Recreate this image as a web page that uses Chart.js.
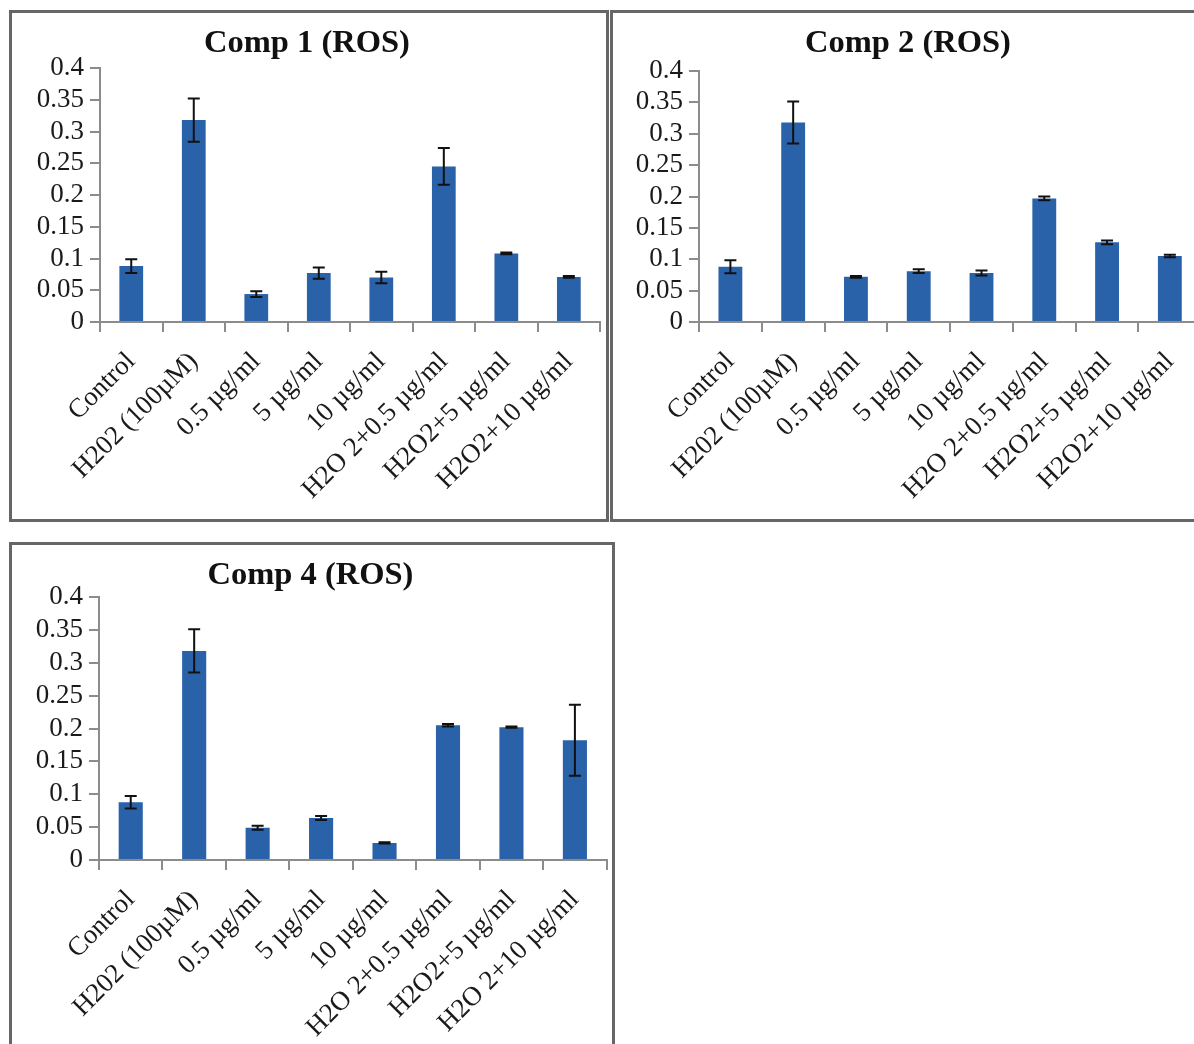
<!DOCTYPE html>
<html>
<head>
<meta charset="utf-8">
<title>ROS levels</title>
<script src="https://cdn.jsdelivr.net/npm/chart.js@4.4.1/dist/chart.umd.min.js"></script>
<style>
  html, body { margin: 0; padding: 0; background: #fff; }
  body { position: relative; width: 1194px; height: 1044px; overflow: hidden; }
  .panel { position: absolute; border: 3px solid #666; box-sizing: border-box; background: #fff; }
  .panel canvas { display: block; }
</style>
</head>
<body>
<div class="panel" style="left:9px; top:10px; width:600px; height:512px;">
  <canvas id="comp1" width="594" height="506"></canvas>
</div>
<div class="panel" style="left:610px; top:10px; width:600px; height:512px;">
  <canvas id="comp2" width="594" height="506"></canvas>
</div>
<div class="panel" style="left:9px; top:542px; width:606px; height:512px;">
  <canvas id="comp4" width="600" height="506"></canvas>
</div>
<script>
// Treatment groups (x axis)
const categories = ["Control", "H202 (100µM)", "0.5 µg/ml", "5 µg/ml", "10 µg/ml",
  "H2O 2+0.5 µg/ml", "H2O2+5 µg/ml", "H2O2+10 µg/ml"];
const categoriesComp4 = ["Control", "H202 (100µM)", "0.5 µg/ml", "5 µg/ml", "10 µg/ml",
  "H2O 2+0.5 µg/ml", "H2O2+5 µg/ml", "H2O 2+10 µg/ml"];

// Mean ROS readings and their error (±)
const comp1Values = [0.088, 0.318, 0.044, 0.077, 0.070, 0.245, 0.108, 0.071];
const comp1Errors = [0.011, 0.034, 0.0045, 0.009, 0.009, 0.029, 0.0015, 0.0015];
const comp2Values = [0.088, 0.318, 0.072, 0.081, 0.078, 0.197, 0.127, 0.105];
const comp2Errors = [0.0105, 0.0335, 0.0015, 0.003, 0.004, 0.003, 0.003, 0.002];
const comp4Values = [0.088, 0.318, 0.049, 0.064, 0.026, 0.205, 0.202, 0.182];
const comp4Errors = [0.0095, 0.033, 0.003, 0.003, 0.001, 0.002, 0.001, 0.054];

// Value axis ticks
const yTicks = [0, 0.05, 0.1, 0.15, 0.2, 0.25, 0.3, 0.35, 0.4];

const SERIF = "'Liberation Serif', 'Times New Roman', serif";
const AXIS_GREY = '#8c8c8c';
const BAR_BLUE = '#2a62aa';

// Draws ± error whiskers on top of every bar
const errorBarPlugin = {
  id: 'errorBars',
  afterDatasetsDraw(chart) {
    const ctx = chart.ctx;
    const yScale = chart.scales.y;
    chart.data.datasets.forEach((ds, di) => {
      const meta = chart.getDatasetMeta(di);
      if (!ds.errorBars) return;
      ctx.save();
      ctx.strokeStyle = '#111';
      ctx.lineWidth = 2;
      meta.data.forEach((bar, i) => {
        const v = ds.data[i], e = ds.errorBars[i];
        const top = yScale.getPixelForValue(v + e);
        const bot = yScale.getPixelForValue(v - e);
        const x = bar.x, cap = 6;
        ctx.beginPath();
        ctx.moveTo(x, top); ctx.lineTo(x, bot);
        ctx.moveTo(x - cap, top); ctx.lineTo(x + cap, top);
        ctx.moveTo(x - cap, bot); ctx.lineTo(x + cap, bot);
        ctx.stroke();
      });
      ctx.restore();
    });
  }
};

function rosChart(id, title, labels, values, errors, box) {
  return new Chart(document.getElementById(id), {
    type: 'bar',
    data: {
      labels: labels,
      datasets: [{
        data: values,
        errorBars: errors,
        backgroundColor: BAR_BLUE,
        borderWidth: 0,
        barPercentage: 0.38,
        categoryPercentage: 1
      }]
    },
    plugins: [errorBarPlugin],
    options: {
      responsive: false,
      devicePixelRatio: 1,
      animation: false,
      layout: { padding: { left: 0, right: box.padRight, top: 0, bottom: 0 } },
      plugins: {
        legend: { display: false },
        tooltip: { enabled: false },
        title: {
          display: true,
          text: title,
          color: '#111',
          font: { family: SERIF, size: 32.5, weight: 'bold', lineHeight: 1.2 },
          padding: { top: box.titleTop, bottom: box.titleBottom }
        }
      },
      scales: {
        x: {
          type: 'category',
          offset: true,
          grid: { offset: true, drawOnChartArea: false, drawTicks: true, tickLength: 10, color: AXIS_GREY, lineWidth: 2 },
          border: { display: true, color: AXIS_GREY, width: 2 },
          ticks: {
            autoSkip: false, minRotation: 45, maxRotation: 45, padding: 14,
            color: '#1a1a1a', font: { family: SERIF, size: 27 }
          },
          afterFit(scale) { scale.height = box.xHeight; }
        },
        y: {
          min: 0, max: 0.4,
          grid: { drawOnChartArea: false, drawTicks: true, tickLength: 10, color: AXIS_GREY, lineWidth: 2 },
          border: { display: true, color: AXIS_GREY, width: 2 },
          ticks: {
            autoSkip: false, padding: 6, color: '#1a1a1a', font: { family: SERIF, size: 27 },
            callback: (v) => String(v)
          },
          afterBuildTicks(scale) { scale.ticks = yTicks.map(v => ({ value: v })); },
          afterFit(scale) { scale.width = box.yWidth; }
        }
      }
    }
  });
}

rosChart('comp1', 'Comp 1 (ROS)', categories, comp1Values, comp1Errors,
  { yWidth: 88, xHeight: 197, padRight: 4, titleTop: 11, titleBottom: 5 });
rosChart('comp2', 'Comp 2 (ROS)', categories, comp2Values, comp2Errors,
  { yWidth: 86, xHeight: 197, padRight: 4, titleTop: 11, titleBottom: 8 });
rosChart('comp4', 'Comp 4 (ROS)', categoriesComp4, comp4Values, comp4Errors,
  { yWidth: 87, xHeight: 191, padRight: 3, titleTop: 11, titleBottom: 2 });
</script>
</body>
</html>
